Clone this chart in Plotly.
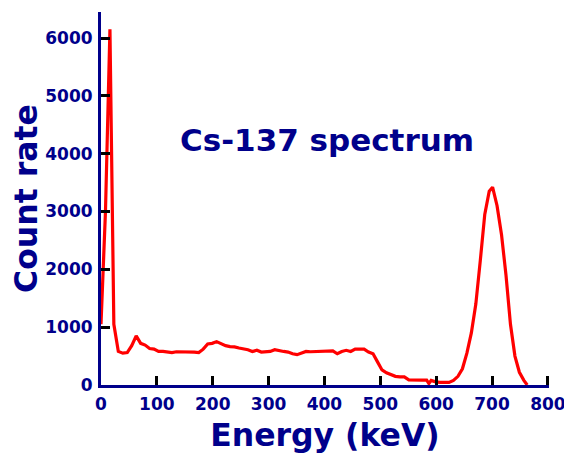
import plotly.graph_objects as go

energy_kev = [0, 8, 16, 23, 31, 39, 47, 55, 63, 71, 79, 87, 95, 103, 111, 119, 127, 135, 143,
              151, 159, 167, 175, 183, 191, 199, 207, 215, 223, 231, 239, 247, 255, 263, 271,
              279, 287, 295, 303, 311, 319, 327, 335, 343, 351, 359, 367, 375, 383, 391, 399,
              407, 415, 423, 431, 439, 447, 455, 463, 471, 479, 487, 495, 503, 511, 519, 527,
              535, 543, 551, 559, 567, 575, 583, 587, 591, 599, 607, 615, 623, 631, 639, 647,
              655, 663, 671, 679, 687, 695, 701, 709, 717, 725, 733, 741, 749, 757, 763]
count_rate = [1050, 3000, 6150, 1050, 580, 550, 560, 680, 850, 720, 690, 630, 620, 580, 580,
              575, 560, 575, 575, 575, 575, 570, 560, 620, 710, 720, 750, 720, 680, 665, 660,
              640, 625, 610, 580, 600, 570, 575, 580, 610, 590, 580, 570, 540, 525, 550, 580,
              575, 580, 580, 580, 585, 590, 540, 580, 600, 580, 620, 620, 620, 570, 540, 400,
              260, 210, 180, 150, 140, 140, 90, 85, 85, 85, 85, 25, 80, 55, 45, 45, 45, 80,
              150, 280, 550, 900, 1400, 2150, 2950, 3350, 3420, 3100, 2600, 1900, 1050, 500,
              220, 80, 0]

x_ticks = [0, 100, 200, 300, 400, 500, 600, 700, 800]
y_ticks = [0, 1000, 2000, 3000, 4000, 5000, 6000]

NAVY = "#00008B"
FONT = "DejaVu Sans"

fig = go.Figure()
fig.add_trace(go.Scatter(x=energy_kev, y=count_rate, mode="lines",
                         line=dict(color="#FF0000", width=3.2), showlegend=False))

fig.add_annotation(x=404, y=4240, xref="x", yref="y", text="<b>Cs-137 spectrum</b>",
                   showarrow=False, font=dict(family=FONT, size=31, color=NAVY))

axis_common = dict(showgrid=False, zeroline=False, showline=True, linecolor=NAVY, linewidth=3,
                   ticks="inside", ticklen=9, tickwidth=3, tickcolor="black", automargin=False,
                   tickfont=dict(family=FONT, size=17, color=NAVY, weight="bold"))

fig.update_xaxes(range=[0, 802], tickvals=x_ticks, ticktext=[str(v) for v in x_ticks],
                 title=dict(text="<b>Energy (keV)</b>", font=dict(family=FONT, size=31.5, color=NAVY),
                            standoff=11),
                 ticklabelstandoff=2,
                 **axis_common)
fig.update_yaxes(range=[0, 6450], tickvals=y_ticks, ticktext=[str(v) for v in y_ticks],
                 title=dict(text="<b>Count rate</b>", font=dict(family=FONT, size=31.5, color=NAVY),
                            standoff=2),
                 ticklabelstandoff=2,
                 **axis_common)

# the page body has an 8px margin, so the figure is 8px smaller and margins shifted
fig.update_layout(width=564, height=450, margin=dict(l=93, r=23, t=4, b=73),
                  plot_bgcolor="white", paper_bgcolor="white")

fig.write_html("out.html")
